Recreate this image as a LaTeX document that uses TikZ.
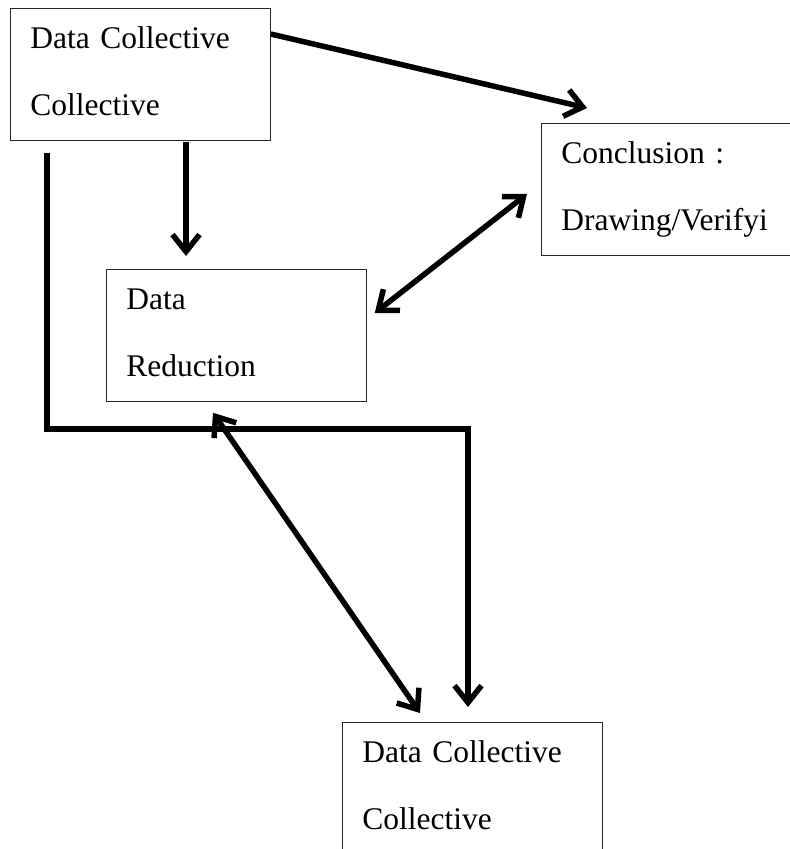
\documentclass[tikz,border=0pt]{standalone}
\usepackage{fontspec}
\setmainfont{Liberation Serif}
\usetikzlibrary{positioning,calc,arrows.meta}

\begin{document}
\begin{tikzpicture}[x=1pt, y=-1pt, >={Straight Barb[length=17pt, width=27pt]},
    stagebox/.style={draw=black!85, line width=0.8pt, anchor=north west, align=left,
        inner xsep=20pt, inner ysep=0pt, text width=220pt, text height=40pt, text depth=92pt,
        font=\fontsize{31.5}{36}\selectfont},
    flow/.style={line width=5.5pt, ->},
    twoway/.style={line width=5.5pt, <->},]
    \clip (0,0) rectangle (790,849);
    % nodes
    \node[stagebox]   (collect)   at (10,8)     {Data Collective\\[31pt]Collective};
    \node[stagebox]   (concl)     at (541,123)  {Conclusion :\\[31pt]Drawing/Verifyi};
    \node[stagebox]   (reduce)    at (106,269)  {Data\\[31pt]Reduction};
    \node[stagebox]   (display)   at (342,722)  {Data Collective\\[31pt]Collective};
    % lines
    \draw[flow] ($(collect.north east)+(0,26)$) -- ($(concl.north west)+(46,-15)$);
    \draw[flow] ($(collect.south west)+(176,1)$) -- ($(reduce.north west)+(80,-13)$);
    \draw[twoway] ($(reduce.north east)+(8,44)$) -- ($(concl.north west)+(-14,71)$);
    \draw[flow, line join=miter] ($(collect.south west)+(37,12)$) |- ($(display.north west)+(126,-293)$) -- ($(display.north west)+(126,-15)$);
    \draw[twoway] ($(reduce.south west)+(107,11)$) -- ($(display.north west)+(78,-9)$);
\end{tikzpicture}
\end{document}
